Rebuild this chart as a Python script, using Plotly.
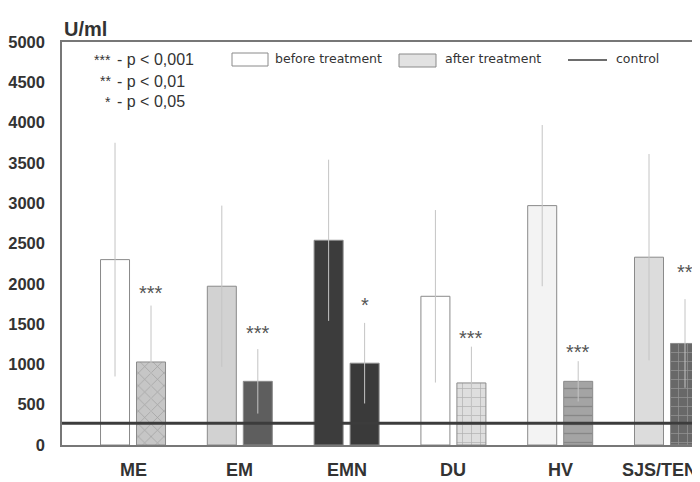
import plotly.graph_objects as go

categories = ["ME", "EM", "EMN", "DU", "HV", "SJS/TEN"]
before_vals = [2300, 1970, 2540, 1845, 2970, 2330]
after_vals = [1030, 790, 1015, 770, 790, 1260]
before_sd = [1450, 1000, 1000, 1070, 1000, 1280]
after_sd = [700, 400, 500, 450, 250, 550]
signif = ["***", "***", "*", "***", "***", "**"]
signif_y = [1890, 1390, 1740, 1330, 1155, 2150]
control_val = 270
y_ticks = list(range(0, 5001, 500))

before_colors = ["#ffffff", "#d2d2d2", "#3c3c3c", "#ffffff", "#f3f3f3", "#dcdcdc"]
after_colors = ["#c6c6c6", "#5e5e5e", "#3a3a3a", "#dedede", "#a4a4a4", "#686868"]
after_patterns = ["x", "", "", "+", "-", "+"]

# window layout (page body has an 8px default margin)
OFF = 8
WIN_W, WIN_H = 700, 482
PL, PT, PB = 62, 42, 445          # plot area in window pixels
W, H = WIN_W - OFF, WIN_H - OFF
L, T, B = PL - OFF, PT - OFF, WIN_H - PB
PW, PH = WIN_W - PL, PB - PT


def px_x(p):
    return (p - PL) / PW


def px_y(p):
    return (PB - p) / PH


TXT = "#333333"

fig = go.Figure()
fig.add_trace(go.Bar(
    x=categories, y=before_vals, name="before treatment",
    marker=dict(color=before_colors, line=dict(color="#8a8a8a", width=1)),
    error_y=dict(type="data", array=before_sd, visible=True, color="#c4c4c4",
                 thickness=1, width=0),
    showlegend=False,
))
fig.add_trace(go.Bar(
    x=categories, y=after_vals, name="after treatment",
    marker=dict(color=after_colors, line=dict(color="#8a8a8a", width=1),
                pattern=dict(shape=after_patterns, fgcolor="#ffffff",
                             fgopacity=0.3, size=9, solidity=0.15)),
    error_y=dict(type="data", array=after_sd, visible=True, color="#c4c4c4",
                 thickness=1, width=0),
    showlegend=False,
))

# control line
fig.add_shape(type="line", xref="paper", yref="y", x0=0, x1=1,
              y0=control_val, y1=control_val,
              line=dict(color="#3c3c3c", width=3), layer="above")

# significance marks over "after" bars
for c, s, yv in zip(categories, signif, signif_y):
    fig.add_annotation(x=c, y=yv, text=s, showarrow=False, xshift=18,
                       font=dict(family="Liberation Sans, Arial", size=20, color="#555"),
                       yanchor="middle")

# category labels (last one nudged left so it stays inside the page)
for i, c in enumerate(categories):
    fig.add_annotation(x=c, xref="x", yref="paper", y=px_y(470), text=c,
                       showarrow=False, yanchor="middle",
                       xshift=-8 if i == len(categories) - 1 else 0,
                       font=dict(family="Liberation Sans, Arial", size=18, color=TXT,
                                 weight="bold"))

# key for significance
key_rows = [("***", "- p < 0,001", 60), ("**", "- p < 0,01", 81), ("*", "- p < 0,05", 102)]
for stars, txt, ypx in key_rows:
    fig.add_annotation(xref="paper", yref="paper", x=px_x(113), y=px_y(ypx),
                       text=stars, showarrow=False, xanchor="right", yanchor="middle",
                       font=dict(family="Liberation Sans, Arial", size=14, color=TXT))
    fig.add_annotation(xref="paper", yref="paper", x=px_x(115), y=px_y(ypx),
                       text=txt, showarrow=False, xanchor="left", yanchor="middle",
                       font=dict(family="Liberation Sans, Arial", size=16, color=TXT))

# manual legend
fig.add_shape(type="rect", xref="paper", yref="paper",
              x0=px_x(232), x1=px_x(268), y0=px_y(66), y1=px_y(53),
              fillcolor="#ffffff", line=dict(color="#8a8a8a", width=1))
fig.add_annotation(xref="paper", yref="paper", x=px_x(273), y=px_y(59),
                   text="before treatment", showarrow=False, xanchor="left", yanchor="middle",
                   font=dict(family="DejaVu Sans", size=12.5, color=TXT))
fig.add_shape(type="rect", xref="paper", yref="paper",
              x0=px_x(399), x1=px_x(436), y0=px_y(67), y1=px_y(54),
              fillcolor="#e2e2e2", line=dict(color="#8a8a8a", width=1))
fig.add_annotation(xref="paper", yref="paper", x=px_x(443), y=px_y(59),
                   text="after treatment", showarrow=False, xanchor="left", yanchor="middle",
                   font=dict(family="DejaVu Sans", size=12.5, color=TXT))
fig.add_shape(type="line", xref="paper", yref="paper",
              x0=px_x(568), x1=px_x(607), y0=px_y(60), y1=px_y(60),
              line=dict(color="#3c3c3c", width=1.5))
fig.add_annotation(xref="paper", yref="paper", x=px_x(614), y=px_y(59),
                   text="control", showarrow=False, xanchor="left", yanchor="middle",
                   font=dict(family="DejaVu Sans", size=12.5, color=TXT))

# unit label
fig.add_annotation(xref="paper", yref="paper", x=px_x(62), y=px_y(29),
                   text="U/ml", showarrow=False, xanchor="left", yanchor="middle",
                   font=dict(family="Liberation Sans, Arial", size=20, color=TXT,
                             weight="bold"))

fig.update_layout(
    width=W, height=H,
    margin=dict(l=L, r=0, t=T, b=B, pad=0, autoexpand=False),
    paper_bgcolor="white", plot_bgcolor="white",
    barmode="group", bargap=0.326, bargroupgap=0.194,
    xaxis=dict(range=[-0.665, 5.309], showgrid=False, zeroline=False,
               showline=True, linecolor="#777", linewidth=1.5, mirror=True,
               ticks="", showticklabels=False, automargin=False),
    yaxis=dict(range=[0, 5000], tickvals=y_ticks, showgrid=False, zeroline=False,
               showline=True, linecolor="#777", linewidth=1.5,
               ticks="", ticklabelstandoff=12, automargin=False,
               tickfont=dict(family="Liberation Sans, Arial", size=16.5, color=TXT,
                             weight="bold")),
    showlegend=False,
)

fig.write_html("out.html")
